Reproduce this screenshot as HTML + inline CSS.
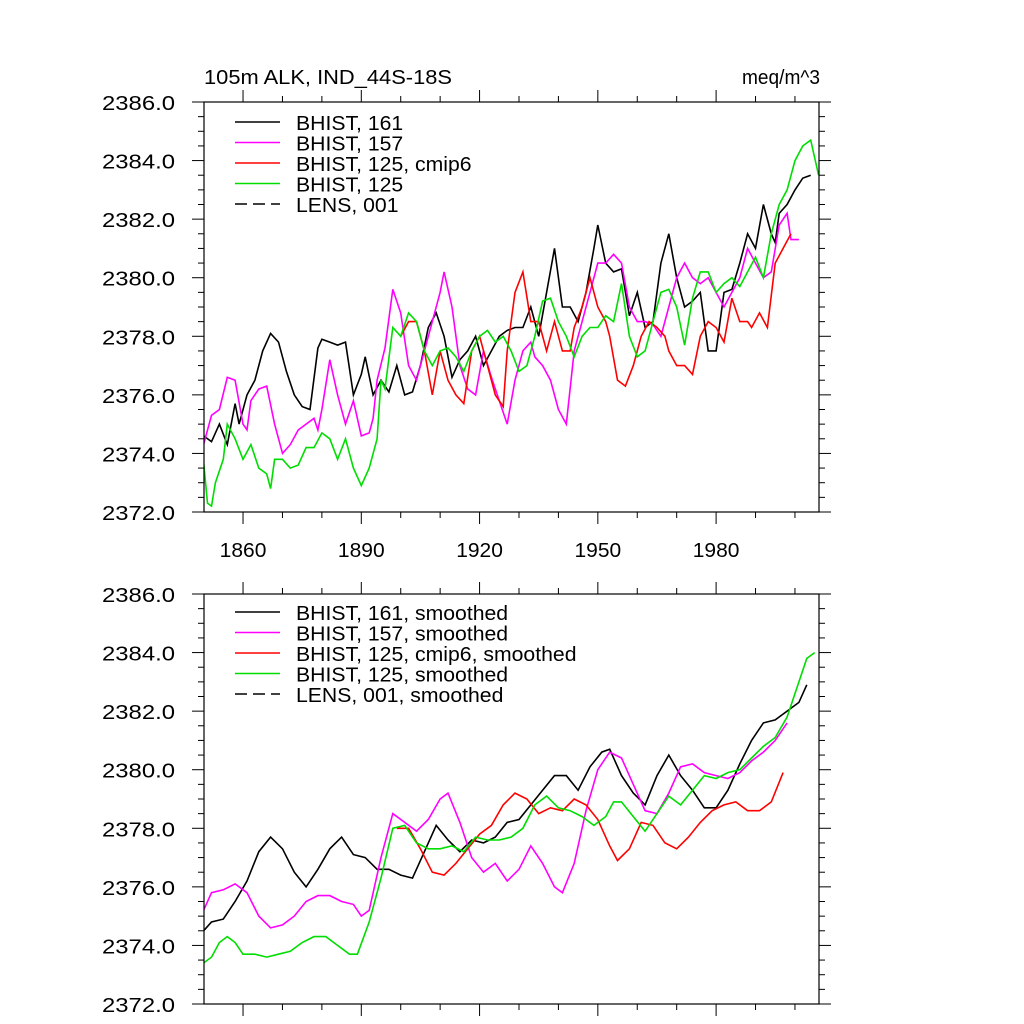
<!DOCTYPE html>
<html><head><meta charset="utf-8"><style>
html,body{margin:0;padding:0;background:#fff;}
svg{display:block;font-family:"Liberation Sans",sans-serif;}
</style></head><body>
<svg id="c" width="1024" height="1024"></svg>
<script>
const NS="http://www.w3.org/2000/svg";
// ---- data: top panel (annual) ----
const blackYears=[1850,1852,1854,1856,1858,1859,1861,1863,1865,1867,1869,1871,1873,1875,1877,1879,1880,1882,1884,1886,1888,1890,1891,1893,1895,1897,1899,1901,1903,1905,1907,1909,1911,1913,1915,1917,1919,1921,1923,1925,1927,1929,1931,1933,1935,1937,1939,1941,1943,1945,1947,1949,1950,1952,1954,1956,1958,1960,1962,1964,1966,1968,1970,1972,1974,1976,1978,1980,1982,1984,1986,1988,1990,1992,1994,1995,1996,1998,2000,2002,2004];
const blackVals=[2374.6,2374.4,2375.0,2374.3,2375.7,2375.0,2376.0,2376.5,2377.5,2378.1,2377.8,2376.8,2376.0,2375.6,2375.5,2377.6,2377.9,2377.8,2377.7,2377.8,2376.0,2376.7,2377.3,2376.0,2376.5,2376.1,2377.0,2376.0,2376.1,2377.0,2378.3,2378.8,2378.0,2376.6,2377.2,2377.5,2378.0,2377.0,2377.5,2378.0,2378.2,2378.3,2378.3,2379.0,2378.0,2379.5,2381.0,2379.0,2379.0,2378.5,2379.5,2381.0,2381.8,2380.5,2380.2,2380.3,2378.7,2379.5,2378.3,2378.5,2380.5,2381.5,2380.0,2379.0,2379.2,2379.5,2377.5,2377.5,2379.5,2379.6,2380.5,2381.5,2381.0,2382.5,2381.5,2381.2,2382.2,2382.5,2383.0,2383.4,2383.5];
const magYears=[1850,1852,1854,1856,1858,1860,1861,1862,1864,1866,1868,1870,1872,1874,1876,1878,1879,1880,1882,1884,1886,1888,1890,1892,1893,1894,1896,1898,1900,1902,1904,1906,1908,1910,1911,1913,1915,1917,1919,1921,1923,1925,1927,1929,1931,1933,1934,1936,1938,1940,1942,1944,1946,1948,1950,1952,1954,1956,1958,1960,1962,1964,1966,1968,1970,1972,1974,1976,1978,1980,1982,1984,1986,1988,1990,1992,1994,1996,1998,1999,2001];
const magVals=[2374.3,2375.3,2375.5,2376.6,2376.5,2375.0,2374.8,2375.8,2376.2,2376.3,2375.0,2374.0,2374.3,2374.8,2375.0,2375.2,2374.8,2375.5,2377.2,2376.0,2375.0,2375.8,2374.6,2374.7,2375.2,2376.5,2377.6,2379.6,2378.8,2377.0,2376.5,2377.5,2378.5,2379.5,2380.2,2379.0,2377.0,2376.2,2376.0,2377.5,2376.6,2375.8,2375.0,2376.5,2377.5,2377.8,2377.3,2377.0,2376.5,2375.5,2375.0,2377.5,2378.5,2379.5,2380.5,2380.5,2380.8,2380.5,2379.0,2378.5,2378.5,2378.4,2378.0,2379.0,2380.0,2380.5,2380.0,2379.8,2380.0,2379.5,2379.0,2379.5,2380.0,2381.0,2380.5,2380.0,2380.2,2381.8,2382.2,2381.3,2381.3];
const redYears=[1900,1902,1904,1906,1908,1910,1912,1914,1916,1918,1920,1922,1924,1926,1927,1929,1931,1933,1935,1937,1939,1941,1943,1944,1946,1948,1950,1952,1953,1955,1957,1959,1961,1963,1965,1967,1968,1970,1972,1974,1976,1978,1980,1982,1984,1986,1988,1989,1991,1993,1995,1997,1999];
const redVals=[2378.0,2378.5,2378.5,2377.5,2376.0,2377.5,2376.5,2376.0,2375.7,2377.5,2378.0,2377.0,2376.0,2375.6,2377.5,2379.5,2380.2,2378.5,2378.5,2377.5,2378.5,2377.5,2377.5,2378.3,2379.0,2380.0,2379.0,2378.5,2378.0,2376.5,2376.3,2377.0,2378.0,2378.5,2378.3,2378.0,2377.5,2377.0,2377.0,2376.7,2378.0,2378.5,2378.3,2377.8,2379.3,2378.5,2378.5,2378.3,2378.8,2378.3,2380.5,2381.0,2381.5];
const greenYears=[1850,1851,1852,1853,1855,1856,1858,1860,1862,1864,1866,1867,1868,1870,1872,1874,1876,1878,1880,1882,1884,1886,1888,1890,1892,1894,1895,1896,1898,1900,1902,1904,1906,1908,1910,1912,1914,1916,1918,1920,1922,1924,1926,1928,1930,1932,1934,1936,1938,1940,1942,1944,1946,1948,1950,1952,1954,1956,1958,1960,1962,1964,1966,1968,1970,1972,1974,1976,1978,1980,1982,1984,1986,1988,1990,1992,1994,1996,1998,2000,2002,2004,2006];
const greenVals=[2373.7,2372.3,2372.2,2373.0,2373.8,2375.0,2374.5,2373.8,2374.3,2373.5,2373.3,2372.8,2373.8,2373.8,2373.5,2373.6,2374.2,2374.2,2374.7,2374.5,2373.8,2374.5,2373.5,2372.9,2373.5,2374.5,2376.5,2376.2,2378.3,2378.0,2378.8,2378.5,2377.5,2377.0,2377.5,2377.6,2377.3,2376.8,2377.5,2378.0,2378.2,2377.8,2378.0,2377.5,2376.8,2377.0,2378.0,2379.2,2379.3,2378.5,2378.0,2377.3,2378.0,2378.3,2378.3,2378.7,2378.5,2379.8,2378.0,2377.3,2377.5,2378.5,2379.5,2379.6,2379.0,2377.7,2379.3,2380.2,2380.2,2379.5,2379.8,2380.0,2379.7,2380.2,2380.7,2380.0,2381.5,2382.5,2383.0,2384.0,2384.5,2384.7,2383.5];
// ---- data: bottom panel (smoothed) ----
const sBlackYears=[1850,1852,1855,1858,1861,1864,1867,1870,1873,1876,1879,1882,1885,1888,1891,1894,1897,1900,1903,1906,1909,1912,1915,1918,1921,1924,1927,1930,1933,1936,1939,1942,1945,1948,1951,1953,1956,1959,1962,1965,1968,1971,1974,1977,1980,1983,1986,1989,1992,1995,1998,2001,2003];
const sBlackVals=[2374.5,2374.8,2374.9,2375.5,2376.2,2377.2,2377.7,2377.3,2376.5,2376.0,2376.6,2377.3,2377.7,2377.1,2377.0,2376.6,2376.6,2376.4,2376.3,2377.2,2378.1,2377.6,2377.2,2377.6,2377.5,2377.7,2378.2,2378.3,2378.8,2379.3,2379.8,2379.8,2379.3,2380.1,2380.6,2380.7,2379.8,2379.2,2378.8,2379.8,2380.5,2379.8,2379.3,2378.7,2378.7,2379.3,2380.2,2381.0,2381.6,2381.7,2382.0,2382.3,2382.9];
const sMagYears=[1850,1852,1855,1858,1861,1864,1867,1870,1873,1876,1879,1882,1885,1888,1890,1892,1895,1898,1901,1904,1907,1910,1912,1915,1918,1921,1924,1927,1930,1933,1936,1939,1941,1944,1947,1950,1953,1956,1959,1962,1965,1968,1971,1974,1977,1980,1983,1986,1989,1992,1995,1998];
const sMagVals=[2375.2,2375.8,2375.9,2376.1,2375.8,2375.0,2374.6,2374.7,2375.0,2375.5,2375.7,2375.7,2375.5,2375.4,2375.0,2375.2,2377.0,2378.5,2378.2,2377.9,2378.3,2379.0,2379.2,2378.2,2377.0,2376.5,2376.8,2376.2,2376.6,2377.4,2376.8,2376.0,2375.8,2376.8,2378.6,2380.0,2380.6,2380.4,2379.5,2378.6,2378.5,2379.2,2380.1,2380.2,2379.9,2379.8,2379.7,2379.9,2380.3,2380.6,2381.0,2381.6];
const sRedYears=[1899,1902,1905,1908,1911,1914,1917,1920,1923,1926,1929,1932,1935,1938,1941,1944,1947,1950,1953,1955,1958,1961,1964,1967,1970,1973,1976,1979,1982,1985,1988,1991,1994,1997];
const sRedVals=[2378.0,2378.0,2377.3,2376.5,2376.4,2376.8,2377.3,2377.8,2378.1,2378.8,2379.2,2379.0,2378.5,2378.7,2378.6,2379.0,2378.8,2378.3,2377.4,2376.9,2377.3,2378.2,2378.1,2377.5,2377.3,2377.7,2378.2,2378.6,2378.8,2378.9,2378.6,2378.6,2378.9,2379.9];
const sGreenYears=[1850,1852,1854,1856,1858,1860,1863,1866,1869,1872,1875,1878,1881,1884,1887,1889,1892,1895,1898,1901,1904,1907,1910,1913,1916,1919,1922,1925,1928,1931,1934,1937,1940,1943,1946,1949,1952,1954,1956,1959,1962,1965,1968,1971,1974,1977,1980,1983,1986,1989,1992,1995,1998,2001,2003,2005];
const sGreenVals=[2373.4,2373.6,2374.1,2374.3,2374.1,2373.7,2373.7,2373.6,2373.7,2373.8,2374.1,2374.3,2374.3,2374.0,2373.7,2373.7,2374.8,2376.3,2378.0,2378.1,2377.5,2377.3,2377.3,2377.4,2377.2,2377.7,2377.6,2377.6,2377.7,2378.0,2378.8,2379.1,2378.7,2378.6,2378.4,2378.1,2378.4,2378.9,2378.9,2378.4,2377.9,2378.5,2379.1,2378.8,2379.3,2379.8,2379.7,2379.9,2380.0,2380.4,2380.8,2381.1,2381.8,2383.0,2383.8,2384.0];
const yTicks=[2372,2374,2376,2378,2380,2382,2384,2386];
const xTicks=[1860,1890,1920,1950,1980];
const legTop=["BHIST, 161","BHIST, 157","BHIST, 125, cmip6","BHIST, 125","LENS, 001"];
const legBot=["BHIST, 161, smoothed","BHIST, 157, smoothed","BHIST, 125, cmip6, smoothed","BHIST, 125, smoothed","LENS, 001, smoothed"];
const colors=["#000","#ff00ff","#ff0000","#00dd00","#000"];

const svg=document.getElementById('c');
function el(tag,attrs,parent){const e=document.createElementNS(NS,tag);for(const k in attrs)e.setAttribute(k,attrs[k]);(parent||svg).appendChild(e);return e;}
function stretch(t,k){const L=t.getComputedTextLength();t.setAttribute('textLength',(L*k).toFixed(1));t.setAttribute('lengthAdjust','spacingAndGlyphs');}
const X0=204,X1=819,YR0=1850.1,YR1=2006.1;
function xs(yr){return X0+(yr-YR0)*(X1-X0)/(YR1-YR0);}
function mkY(top,bot){return v=>bot-(v-2372)*(bot-top)/14;}

function panel(name,top,bot,series,legend,legY,showX){
  const ys=mkY(top,bot);
  const g=el('g',{});
  
  
  const clip=el('clipPath',{id:name+'-clip'},g);
  el('rect',{x:X0,y:top,width:X1-X0,height:bot-top},clip);
  series.forEach((s,i)=>{
    const p=el('polyline',{points:s[0].map((yr,j)=>xs(yr).toFixed(1)+','+ys(s[1][j]).toFixed(1)).join(' '),fill:'none',stroke:colors[i],'stroke-width':1.6,'clip-path':'url(#'+name+'-clip)'},g);
    
    
  });
  const fr=el('rect',{x:X0,y:top,width:X1-X0,height:bot-top,fill:'none',stroke:'#000','stroke-width':1.2},g);
  
  
  for(let v=2372;v<=2386.001;v+=0.5){
    const major=Math.abs(v-Math.round(v/2)*2)<1e-6;
    const L=major?12:6;const y=ys(v);
    el('line',{x1:X0,x2:X0-L,y1:y,y2:y,stroke:'#000'},g);
    el('line',{x1:X1,x2:X1+L,y1:y,y2:y,stroke:'#000'},g);
  }
  yTicks.forEach(v=>{const t=el('text',{x:X0-29,y:ys(v)+8,'text-anchor':'end','font-size':20},g);t.textContent=v.toFixed(1);
    t.setAttribute('textLength','73');t.setAttribute('lengthAdjust','spacingAndGlyphs');
    
    });
  for(let yr=1860;yr<=2000;yr+=10){
    const major=(yr-1860)%30===0;const L=major?12:6;const x=xs(yr);
    el('line',{x1:x,x2:x,y1:bot,y2:bot+L,stroke:'#000'},g);
    el('line',{x1:x,x2:x,y1:top,y2:top-L,stroke:'#000'},g);
  }
  if(showX) xTicks.forEach(yr=>{const t=el('text',{x:xs(yr),y:bot+45,'text-anchor':'middle','font-size':20},g);t.textContent=yr;
    stretch(t,1.05);
    
    });
  legend.forEach((lab,i)=>{
    const y=legY+i*20.5;
    const ln=el('line',{x1:235,x2:280,y1:y,y2:y,stroke:colors[i],'stroke-width':1.4},g);
    if(i===4)ln.setAttribute('stroke-dasharray','12,6');
    const t=el('text',{x:296,y:y+8,'font-size':20},g);t.textContent=lab;
    stretch(t,1.06);
    
    
  });
}
const topSeries=[[blackYears,blackVals],[magYears,magVals],[redYears,redVals],[greenYears,greenVals]];
const botSeries=[[sBlackYears,sBlackVals],[sMagYears,sMagVals],[sRedYears,sRedVals],[sGreenYears,sGreenVals]];
panel('top-panel',102,512,topSeries,legTop,122,true);
panel('bottom-panel',594,1004,botSeries,legBot,612,false);
const t1=el('text',{x:204,y:84,'font-size':20,'textLength':248,'lengthAdjust':'spacingAndGlyphs'});t1.textContent="105m ALK, IND_44S-18S";


const t2=el('text',{x:742,y:84,'font-size':20,'textLength':78,'lengthAdjust':'spacingAndGlyphs'});t2.textContent="meq/m^3";


</script>
</body></html>
